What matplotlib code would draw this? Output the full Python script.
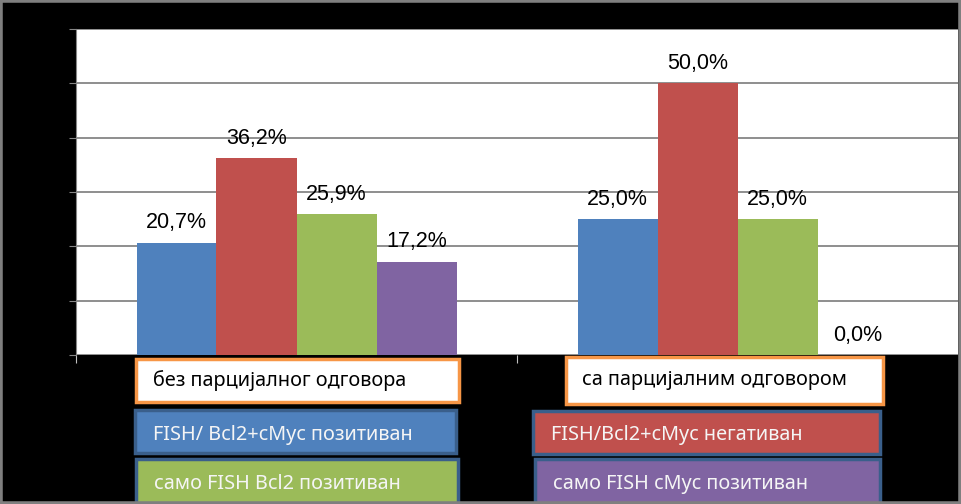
import numpy as np
import matplotlib.pyplot as plt
from matplotlib.patches import Rectangle

# data
categories = ['без парцијалног одговора', 'са парцијалним одговором']
series = ['FISH/ Bcl2+cMyc позитиван', 'FISH/Bcl2+cMyc негативан',
          'само FISH Bcl2 позитиван', 'само FISH cMyc позитиван']
pos_both = [20.7, 25.0]
neg_both = [36.2, 50.0]
only_bcl2 = [25.9, 25.0]
only_cmyc = [17.2, 0.0]
values = [pos_both, neg_both, only_bcl2, only_cmyc]
colors = ['#4F81BD', '#C0504D', '#9BBB59', '#8064A2']

W, H = 961, 504
fig = plt.figure(figsize=(W / 100, H / 100), dpi=100, facecolor='black')

def fx(px):
    return px / W

def fy(py):
    return 1 - py / H

ax = fig.add_axes([fx(76), fy(355), fx(958) - fx(76), fy(29) - fy(355)])
ax.set_facecolor('white')

x = np.arange(len(categories)) + 0.5
w = 80 / 441
for i, vals in enumerate(values):
    xs = x + (i - 1.5) * w
    ax.bar(xs, vals, width=w, color=colors[i], zorder=3)
    for xx, v in zip(xs, vals):
        ax.annotate(f'{v:.1f}%'.replace('.', ','), (xx, v), xytext=(0, 20),
                    textcoords='offset pixels', ha='center', va='center',
                    fontsize=15.5, family='Liberation Sans', color='black')

ax.set_xlim(0, 2)
ax.set_ylim(0, 60)
ax.set_yticks(np.arange(0, 61, 10))
ax.yaxis.grid(True, color='#868686', linewidth=1.3, zorder=0)
ax.tick_params(axis='y', length=5, color='#868686', labelleft=False)
ax.set_xticks([0, 1])
ax.tick_params(axis='x', length=6, color='#c0c0c0', labelbottom=False)
for s in ['top', 'right', 'bottom']:
    ax.spines[s].set_visible(False)
ax.spines['left'].set_color('#868686')

ui_font = ['Noto Sans', 'DejaVu Sans']

# category label boxes
cat_boxes = [(136, 359, 459, 402, 153), (566, 357, 883, 404, 582)]
for (x0, y0, x1, y1, tx), name in zip(cat_boxes, categories):
    fig.patches.append(Rectangle((fx(x0), fy(y1)), fx(x1) - fx(x0), fy(y0) - fy(y1),
                                 transform=fig.transFigure, facecolor='white',
                                 edgecolor='#F79646', linewidth=2.5))
    fig.text(fx(tx), fy((y0 + y1) / 2), name, ha='left', va='center',
             fontsize=14.3, family=ui_font, color='black')

# series boxes (lower row runs past the frame, as in the original)
ser_boxes = [(135, 410, 456, 453, 153, 435), (533, 411, 880, 454, 551, 435),
             (136, 459, 458, 515, 154, 484), (535, 459, 880, 515, 553, 484)]
for (x0, y0, x1, y1, tx, ty), name, c in zip(ser_boxes, series, colors):
    fig.patches.append(Rectangle((fx(x0), fy(y1)), fx(x1) - fx(x0), fy(y0) - fy(y1),
                                 transform=fig.transFigure, facecolor=c,
                                 edgecolor='#3A5F8B', linewidth=2.5))
    fig.text(fx(tx), fy(ty), name, ha='left', va='center',
             fontsize=14.3, family=ui_font, color='#F5F5F5')

# outer grey frame
fig.patches.append(Rectangle((0, 0), 1, 1, transform=fig.transFigure,
                             facecolor='none', edgecolor='#7F7F7F', linewidth=4))

fig.savefig('out.png', dpi=100, facecolor='black')
